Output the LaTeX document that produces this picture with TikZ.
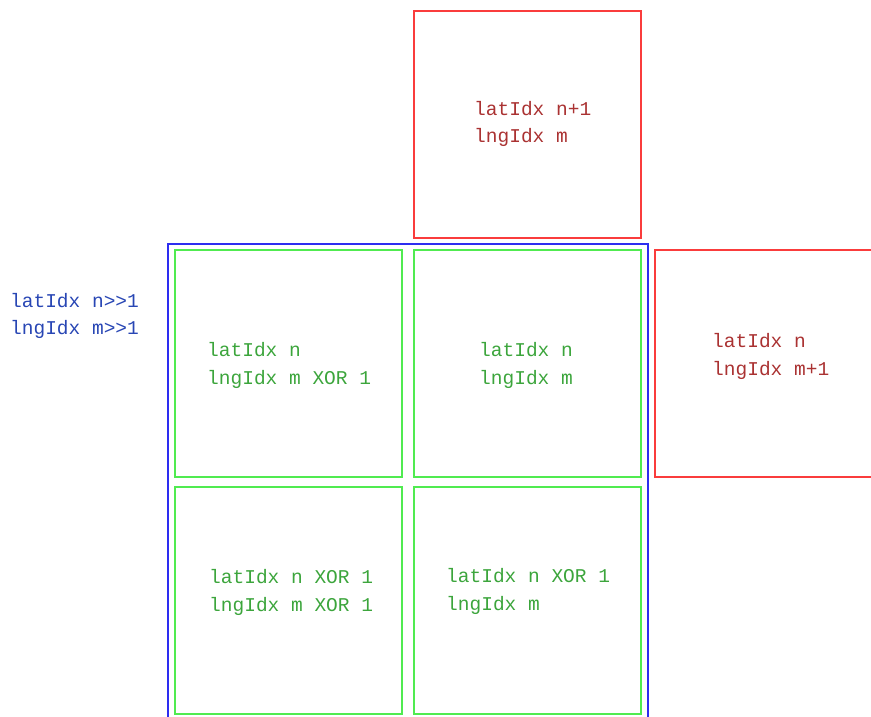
\documentclass[tikz,border=0pt]{standalone}
\usepackage{fontspec}
\setmonofont{Liberation Mono}
\definecolor{boxred}{RGB}{250,60,60}
\definecolor{txtred}{RGB}{170,50,50}
\definecolor{boxgreen}{RGB}{80,235,80}
\definecolor{txtgreen}{RGB}{60,165,60}
\definecolor{boxblue}{RGB}{45,45,240}
\definecolor{txtblue}{RGB}{40,70,180}
\tikzset{
  cell/.style={draw, line width=1.8pt, minimum width=227pt, minimum height=227pt, inner sep=0pt, anchor=north west},
  redcell/.style={cell, draw=boxred},
  greencell/.style={cell, draw=boxgreen},
  groupbox/.style={draw=boxblue, line width=1.8pt, minimum width=480pt, minimum height=480pt, inner sep=0pt, anchor=north west},
  lbl/.style={anchor=base west, inner sep=0pt, font=\ttfamily\fontsize{19.5}{28}\selectfont},
  redtxt/.style={lbl, text=txtred},
  greentxt/.style={lbl, text=txtgreen},
  bluetxt/.style={lbl, text=txtblue}
}
\begin{document}
\begin{tikzpicture}[x=1pt,y=-1pt]
\useasboundingbox (0,0) rectangle (871,716);
\clip (0,0) rectangle (871,716);
% blue group
\node[groupbox] (grp) at (167,243) {};
% cells
\node[redcell] (top) at (413,10) {};
\node[greencell] (tl) at (174,249) {};
\node[greencell] (tr) at (413,249) {};
\node[greencell] (bl) at (174,486) {};
\node[greencell] (br) at (413,486) {};
\node[redcell, minimum width=232pt] (right) at (654,249) {};
% labels
\node[bluetxt] (g1) at (10,307) {latIdx n>>1};
\node[bluetxt] (g2) at (10,334) {lngIdx m>>1};
\node[redtxt] (top1) at (474,115) {latIdx n+1};
\node[redtxt] (top2) at (474,142) {lngIdx m};
\node[greentxt] (tl1) at (207,356) {latIdx n};
\node[greentxt] (tl2) at (207,384) {lngIdx m XOR 1};
\node[greentxt] (tr1) at (479,356) {latIdx n};
\node[greentxt] (tr2) at (479,384) {lngIdx m};
\node[redtxt] (r1) at (712,347) {latIdx n};
\node[redtxt] (r2) at (712,375) {lngIdx m+1};
\node[greentxt] (bl1) at (209,583) {latIdx n XOR 1};
\node[greentxt] (bl2) at (209,611) {lngIdx m XOR 1};
\node[greentxt] (br1) at (446,582) {latIdx n XOR 1};
\node[greentxt] (br2) at (446,610) {lngIdx m};
\end{tikzpicture}
\end{document}
